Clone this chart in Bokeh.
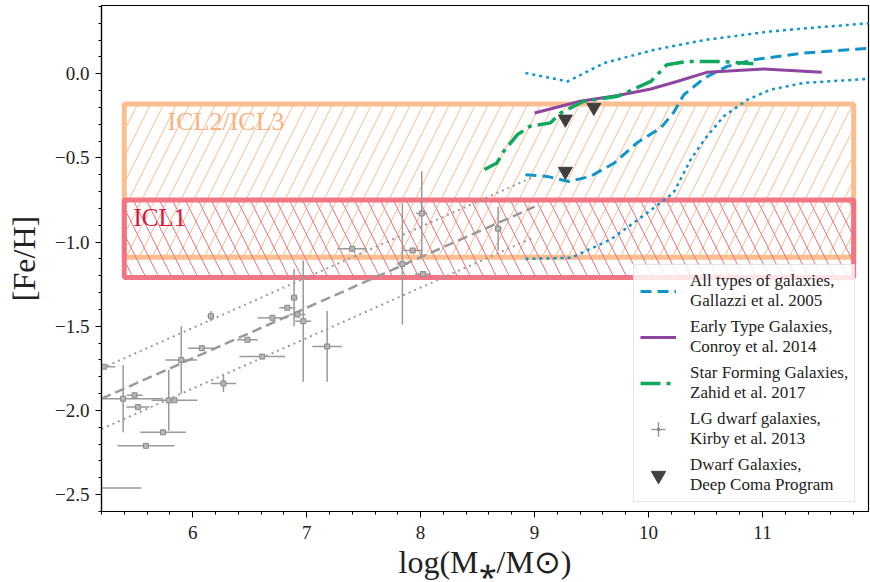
import numpy as np
from bokeh.plotting import figure
from bokeh.models import (Legend, LegendItem, Label,
                          SingleIntervalTicker, CustomJSTickFormatter)
from bokeh.embed import file_html
from bokeh.resources import INLINE

# ---------------- data ----------------
# Gallazzi et al. 2005 (all types): median and 16/84 percentiles
gal_x = [8.92, 9.11, 9.30, 9.49, 9.70, 9.90, 10.11, 10.22, 10.31, 10.49, 10.69, 10.92, 11.36, 11.95]
gal_y = [-0.60, -0.61, -0.64, -0.61, -0.53, -0.41, -0.32, -0.23, -0.125, -0.026, 0.043, 0.083, 0.123, 0.152]
gal_hi_x = [8.92, 9.29, 9.61, 10.05, 10.49, 11.07, 11.51, 11.95]
gal_hi_y = [0.004, -0.046, 0.063, 0.142, 0.20, 0.251, 0.277, 0.30]
gal_lo_x = [8.92, 9.32, 9.67, 9.99, 10.22, 10.37, 10.49, 10.66, 10.87, 11.07, 11.36, 11.95]
gal_lo_y = [-1.10, -1.093, -0.984, -0.826, -0.707, -0.51, -0.391, -0.253, -0.154, -0.095, -0.055, -0.03]

# Conroy et al. 2014 (early type)
con_x = [9.0, 9.40, 9.73, 10.02, 10.25, 10.51, 11.01, 11.52]
con_y = [-0.233, -0.164, -0.130, -0.091, -0.046, 0.008, 0.028, 0.008]

# Zahid et al. 2017 (star forming)
zah_x = [8.56, 8.67, 8.73, 8.85, 8.96, 9.14, 9.23, 9.43, 9.73, 10.02, 10.16, 10.34, 10.63, 10.92]
zah_y = [-0.569, -0.530, -0.46, -0.362, -0.312, -0.292, -0.233, -0.164, -0.134, -0.046, 0.053, 0.073, 0.073, 0.059]

# Kirby et al. 2013 LG dwarfs
kir_x = [5.22, 5.15, 5.39, 5.49, 5.52, 5.74, 5.59, 5.79, 5.84, 5.90, 6.08, 6.16, 6.27, 6.48,
         6.61, 6.70, 6.83, 6.89, 6.92, 6.97, 7.18, 7.40, 7.84, 7.93, 8.01, 8.02, 8.68]
kir_y = [-1.74, -2.46, -1.93, -1.91, -1.98, -2.13, -2.21, -1.94, -1.94, -1.70, -1.63, -1.44, -1.84, -1.58,
         -1.68, -1.45, -1.39, -1.33, -1.43, -1.47, -1.62, -1.04, -1.13, -1.05, -0.83, -1.19, -0.92]
kir_xerr = [0.10, 0.40, 0.35, 0.07, 0.10, 0.20, 0.25, 0.04, 0.20, 0.14, 0.12, 0.03, 0.11, 0.09,
            0.20, 0.13, 0.07, 0.03, 0.07, 0.07, 0.13, 0.13, 0.05, 0.09, 0.05, 0.07, 0.03]
kir_yerr = [0.0, 0.0, 0.20, 0.01, 0.01, 0.01, 0.01, 0.18, 0.01, 0.20, 0.01, 0.03, 0.05, 0.01,
            0.01, 0.01, 0.01, 0.17, 0.02, 0.36, 0.21, 0.01, 0.36, 0.01, 0.25, 0.01, 0.13]

# Kirby mass-metallicity relation and its scatter
fit_x = [5.2, 9.0]
fit_y = [-1.93, -0.79]
fit_hi_y = [-1.75, -0.61]
fit_lo_y = [-2.11, -0.97]

# Deep Coma Program dwarfs
dcp_x = [9.27, 9.52, 9.27]
dcp_y = [-0.27, -0.20, -0.58]

# ICL regions
icl_names = ["ICL2/ICL3", "ICL1"]
icl_x0 = [5.40, 5.40]
icl_x1 = [11.80, 11.80]
icl_y0 = [-1.09, -1.21]
icl_y1 = [-0.18, -0.75]

# ticks
x_tick_step = 1
y_tick_step = 0.5

FONT = "Liberation Serif"
ORANGE = "#FCBE8E"
PINK = "#F0707F"
BLUE = "#1195C9"
PURPLE = "#8E45A0"
GREEN = "#0FA85C"
GRAY = "#9a9a9a"

p = figure(width=870, height=582, x_range=(5.2, 11.93), y_range=(-2.6, 0.405),
           output_backend="svg", toolbar_location=None,
           min_border_left=101, min_border_right=2, min_border_top=5, min_border_bottom=70)
p.xgrid.visible = False
p.ygrid.visible = False
p.outline_line_color = "black"
p.outline_line_width = 1.2

# ICL boxes
p.quad(left=icl_x0[0], right=icl_x1[0], bottom=icl_y0[0], top=icl_y1[0],
       fill_color=None, line_color=ORANGE, line_width=5,
       hatch_pattern="/", hatch_color=ORANGE, hatch_weight=1, hatch_scale=26)
p.quad(left=icl_x0[1], right=icl_x1[1], bottom=icl_y0[1], top=icl_y1[1],
       fill_color=None, line_color=PINK, line_width=5, line_alpha=0.95,
       hatch_pattern="\\", hatch_color=PINK, hatch_weight=1, hatch_scale=26)

p.add_layout(Label(x=5.78, y=-0.285, text=icl_names[0], text_color="#FBB27F",
                   text_font=FONT, text_font_size="26px", text_baseline="middle"))
p.add_layout(Label(x=5.48, y=-0.855, text=icl_names[1], text_color="#DC143C",
                   text_font=FONT, text_font_size="25px", text_baseline="middle"))

# Kirby fit lines
p.line(fit_x, fit_y, line_color=GRAY, line_width=2.5, line_dash="10 5")
p.line(fit_x, fit_hi_y, line_color=GRAY, line_width=2, line_dash="2 4")
p.line(fit_x, fit_lo_y, line_color=GRAY, line_width=2, line_dash="2 4")

# Kirby error bars
kx = np.array(kir_x); ky = np.array(kir_y)
kxe = np.array(kir_xerr); kye = np.array(kir_yerr)
p.segment(x0=kx - kxe, y0=ky, x1=kx + kxe, y1=ky, line_color=GRAY, line_width=1.5)
p.segment(x0=kx, y0=ky - kye, x1=kx, y1=ky + kye, line_color=GRAY, line_width=1.5)
p.scatter(kir_x, kir_y, marker="square", size=5, fill_color="#b5b5b5",
          line_color="#8a8a8a", line_width=1)

# zero-size glyphs at the Kirby points: invisible in the plot, give the legend its errorbar symbol
r_kir_cross = p.scatter(kir_x, kir_y, marker="cross", size=0, line_color=GRAY, line_width=1.5)
r_kir_dot = p.scatter(kir_x, kir_y, marker="dot", size=0, fill_color="#8a8a8a",
                      line_color="#8a8a8a", line_width=1)

# Gallazzi
r_gal = p.line(gal_x, gal_y, line_color=BLUE, line_width=3, line_dash="11 6")
p.line(gal_hi_x, gal_hi_y, line_color=BLUE, line_width=2.5, line_dash="3 4")
p.line(gal_lo_x, gal_lo_y, line_color=BLUE, line_width=2.5, line_dash="3 4")

# Conroy
r_con = p.line(con_x, con_y, line_color=PURPLE, line_width=3)

# Zahid
r_zah = p.line(zah_x, zah_y, line_color=GREEN, line_width=3.5, line_dash="20 6 4 6")

# Deep Coma
r_dcp = p.scatter(dcp_x, dcp_y, marker="inverted_triangle", size=14,
                  fill_color="#3f3f3f", line_color="#3f3f3f")

# axes
p.xaxis.ticker = SingleIntervalTicker(interval=x_tick_step, num_minor_ticks=5)
p.yaxis.ticker = SingleIntervalTicker(interval=y_tick_step, num_minor_ticks=5)
p.yaxis.formatter = CustomJSTickFormatter(
    code="return (tick < -1e-9 ? '\u2212' : '') + Math.abs(tick).toFixed(1);")
for ax in (p.xaxis[0], p.yaxis[0]):
    ax.major_tick_in = 0
    ax.major_tick_out = 6
    ax.minor_tick_in = 0
    ax.minor_tick_out = 3
    ax.axis_line_color = "black"
    ax.axis_line_width = 1.2
    ax.major_tick_line_color = "black"
    ax.minor_tick_line_color = "black"
    ax.major_label_text_font = FONT
    ax.major_label_text_font_size = "19px"
    ax.major_label_text_color = "#222222"
    ax.axis_label_text_font = FONT
    ax.axis_label_text_font_size = "32px"
    ax.axis_label_text_font_style = "normal"
    ax.axis_label_text_color = "#222222"
p.yaxis.axis_label = "[Fe/H]"
p.xaxis.axis_label = "log(M\u204e/M\u2299)"
p.xaxis.major_label_standoff = 8
p.yaxis.major_label_standoff = 6
p.xaxis.axis_label_standoff = 2
p.yaxis.axis_label_standoff = 10

legend = Legend(items=[
    LegendItem(label="All types of galaxies,\nGallazzi et al. 2005", renderers=[r_gal]),
    LegendItem(label="Early Type Galaxies,\nConroy et al. 2014", renderers=[r_con]),
    LegendItem(label="Star Forming Galaxies,\nZahid et al. 2017", renderers=[r_zah]),
    LegendItem(label="LG dwarf galaxies,\nKirby et al. 2013", renderers=[r_kir_cross, r_kir_dot]),
    LegendItem(label="Dwarf Galaxies,\nDeep Coma Program", renderers=[r_dcp]),
], location=(532, 9))
legend.label_text_font = FONT
legend.label_text_font_size = "17px"
legend.label_text_color = "#222222"
legend.label_text_line_height = 1.05
legend.glyph_width = 36
legend.glyph_height = 36
legend.label_standoff = 14
legend.spacing = 6
legend.padding = 6
legend.margin = 0
legend.border_line_color = "#cccccc"
legend.border_line_width = 1
legend.background_fill_color = "white"
legend.background_fill_alpha = 0.8
p.add_layout(legend)

open("out.html", "w").write(file_html(p, INLINE))
